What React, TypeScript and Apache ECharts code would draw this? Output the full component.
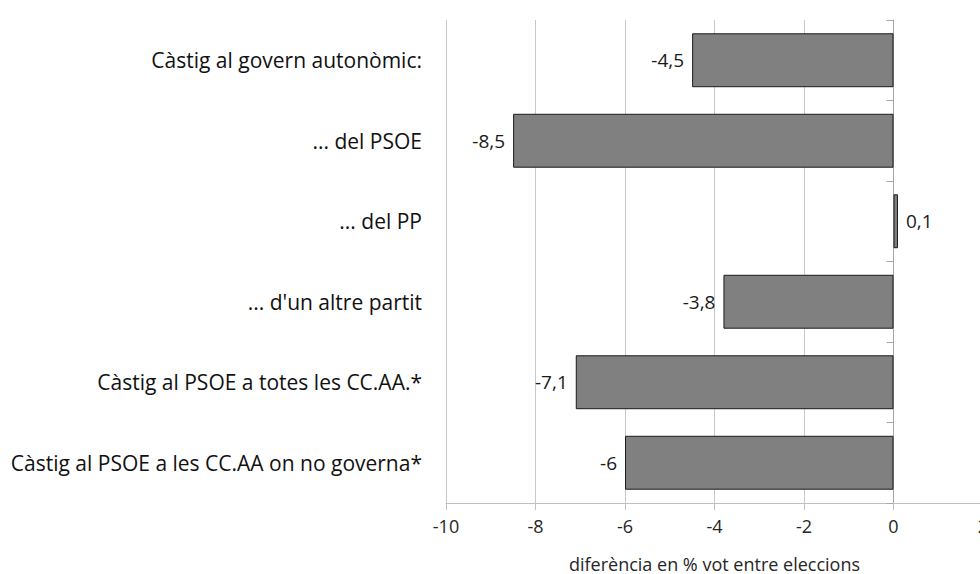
import React, { useEffect, useRef } from "react";
import * as echarts from "echarts";

const categories = [
  "Càstig al govern autonòmic:",
  "... del PSOE",
  "... del PP",
  "... d'un altre partit",
  "Càstig al PSOE a totes les CC.AA.*",
  "Càstig al PSOE a les CC.AA on no governa*",
];
const values = [-4.5, -8.5, 0.1, -3.8, -7.1, -6];
const xMin = -10;
const xMax = 2;
const xInterval = 2;
const axisName = "diferència en % vot entre eleccions";

const FONT = "'Open Sans', sans-serif";

export default function App() {
  const ref = useRef<HTMLDivElement>(null);
  useEffect(() => {
    if (!ref.current) return;
    const chart = echarts.init(ref.current, null, { renderer: "svg" });
    chart.setOption({
      animation: false,
      backgroundColor: "#ffffff",
      textStyle: { fontFamily: FONT },
      grid: {
        left: 446,
        top: 20,
        width: 537,
        height: 483,
        containLabel: false,
        outerBoundsMode: "none",
      },
      xAxis: {
        type: "value",
        min: xMin,
        max: xMax,
        interval: xInterval,
        name: axisName,
        nameLocation: "middle",
        nameGap: 52,
        nameTextStyle: { fontSize: 18, lineHeight: 18, color: "#262626", fontFamily: FONT },
        axisLine: { show: true, lineStyle: { color: "#bfbfbf", width: 1 } },
        axisTick: { show: true, length: 7, lineStyle: { color: "#bfbfbf" } },
        axisLabel: {
          fontSize: 18,
          color: "#262626",
          margin: 14,
          fontFamily: FONT,
          formatter: (v: number) => String(v).replace(".", ","),
        },
        splitLine: { show: true, lineStyle: { color: "#c8c8c8", width: 1 } },
      },
      yAxis: [
        {
          type: "category",
          data: categories,
          inverse: true,
          axisLine: { show: false, onZero: false },
          axisTick: { show: false },
          axisLabel: {
            fontSize: 21,
            color: "#111111",
            margin: 24,
            fontFamily: FONT,
          },
        },
        {
          type: "category",
          data: categories,
          inverse: true,
          position: "left",
          axisLine: { show: true, onZero: true, lineStyle: { color: "#a6a6a6", width: 1 } },
          axisTick: { show: true, length: 7, lineStyle: { color: "#a6a6a6" } },
          axisLabel: { show: false },
        },
      ],
      series: [
        {
          type: "bar",
          data: values.map((v) => ({
            value: v,
            label: { position: v < 0 ? "left" : "right" },
          })),
          barCategoryGap: "33%",
          itemStyle: { color: "#808080", borderColor: "#1a1a1a", borderWidth: 1 },
          label: {
            show: true,
            fontSize: 19,
            color: "#1a1a1a",
            distance: 8,
            fontFamily: FONT,
            formatter: (p: any) => String(p.value).replace(".", ","),
          },
        },
      ],
    });
    return () => chart.dispose();
  }, []);
  return (
    <div
      ref={ref}
      style={{ position: "fixed", left: 0, top: 0, width: 980, height: 574, overflow: "hidden" }}
    />
  );
}
